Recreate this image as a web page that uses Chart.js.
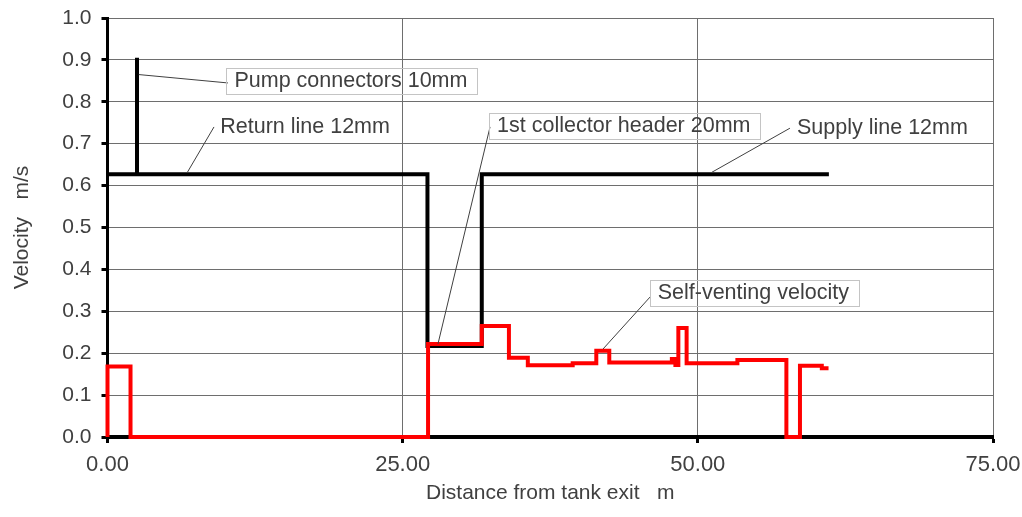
<!DOCTYPE html>
<html>
<head>
<meta charset="utf-8">
<title>Velocity along the collector loop</title>
<script src="https://cdn.jsdelivr.net/npm/chart.js@4.4.0/dist/chart.umd.min.js"></script>
<style>
    body{margin:0;background:#fff;}
    .chart_box{width:1022px;height:517px;position:relative;}
</style>
</head>
<body>
<div class="chart_box"><canvas id="velocityChart"></canvas></div>
<script>
// pipe velocity (black) - step points, value holds from x onward
const pipeDistance = [0, 2.5, 2.5, 27.1, 31.7, 61.1];
const pipeVelocity = [0.627, 0.905, 0.627, 0.217, 0.627, 0.627];

// self-venting velocity (red)
const ventDistance = [0, 0, 1.95, 27.15, 31.7, 34.0, 35.6, 39.4, 41.4, 42.5, 47.8, 48.1, 48.35, 49.05, 53.35, 57.5, 58.65, 60.5, 61.07];
const ventVelocity = [0, 0.168, 0, 0.222, 0.265, 0.189, 0.171, 0.176, 0.206, 0.178, 0.186, 0.172, 0.26, 0.176, 0.184, 0, 0.17, 0.164, 0.164];

const xTicks = [0, 25, 50, 75];
const yTicks = [0, 0.1, 0.2, 0.3, 0.4, 0.5, 0.6, 0.7, 0.8, 0.9, 1.0];

// callouts: text, text anchor (left / middle), leader from line point to label
const noteText   = ["Pump connectors 10mm", "Return line 12mm", "1st collector header 20mm", "Supply line 12mm", "Self-venting velocity"];
const noteAt     = [[10.75, 0.85], [9.55, 0.74], [33.0, 0.742], [58.4, 0.737], [46.6, 0.344]];
const noteTip    = [[2.65, 0.865], [6.73, 0.63], [27.99, 0.222], [51.2, 0.632], [41.97, 0.21]];
const noteEnd    = [[10.2, 0.845], [9.02, 0.74], [32.4, 0.74], [57.8, 0.737], [45.95, 0.334]];
const noteBoxed  = [true, false, true, false, true];

const textColor = "#404040";
const gridColor = "#6e6e6e";

function toPoints(xs, ys){
    let pts = [];
    for(let i=0;i<xs.length;i++){
        pts.push({x:xs[i], y:ys[i]});
    }
    return pts;
}

const calloutPlugin = {
    id:"callouts",
    afterDatasetsDraw(chart){
        const ctx = chart.ctx;
        const xs = chart.scales.x;
        const ys = chart.scales.y;
        ctx.save();
        ctx.font = "21.5px 'Liberation Sans', Arial, sans-serif";
        ctx.textBaseline = "middle";
        for(let i=0;i<noteText.length;i++){
            // leader line
            ctx.strokeStyle = "#404040";
            ctx.lineWidth = 1;
            ctx.beginPath();
            ctx.moveTo(xs.getPixelForValue(noteTip[i][0]), ys.getPixelForValue(noteTip[i][1]));
            ctx.lineTo(xs.getPixelForValue(noteEnd[i][0]), ys.getPixelForValue(noteEnd[i][1]));
            ctx.stroke();

            const tx = xs.getPixelForValue(noteAt[i][0]);
            const ty = ys.getPixelForValue(noteAt[i][1]);
            const w = ctx.measureText(noteText[i]).width;
            if(noteBoxed[i]){
                ctx.strokeStyle = "#c4c4c4";
                ctx.strokeRect(Math.round(tx-8)+0.5, Math.round(ty-13)+0.5, Math.round(w+18), 26);
            }
            ctx.fillStyle = textColor;
            ctx.fillText(noteText[i], tx, ty);
        }
        ctx.restore();
    }
};

window.onload=function(){
    createVelocityChart();
}

function createVelocityChart(){
    const ctx = document.getElementById("velocityChart").getContext("2d");
    const velocityChart = new Chart(ctx, {
        type:"line",
        data:{
            datasets:[{
                label:"Self-venting velocity",
                data:toPoints(ventDistance, ventVelocity),
                borderColor:"#ff0000",
                borderWidth:4,
                stepped:"before",
                pointRadius:0,
                fill:false,
                clip:6
            },{
                label:"Pipe velocity",
                data:toPoints(pipeDistance, pipeVelocity),
                borderColor:"#000000",
                borderWidth:4,
                stepped:"before",
                pointRadius:0,
                fill:false,
                clip:6
            }]
        },
        options:{
            responsive:true,
            maintainAspectRatio:false,
            animation:false,
            layout:{padding:{top:18, right:29, left:0, bottom:0}},
            plugins:{
                legend:{display:false},
                tooltip:{enabled:false}
            },
            scales:{
                x:{
                    type:"linear",
                    min:0,
                    max:75,
                    afterBuildTicks:function(scale){
                        scale.ticks = xTicks.map(v=>({value:v}));
                    },
                    afterFit:function(scale){
                        scale.height = 80;
                        // let the end labels hang over the edge
                        scale.paddingLeft = 0;
                        scale.paddingRight = 0;
                    },
                    ticks:{
                        callback:v=>v.toFixed(2),
                        color:textColor,
                        font:{family:"'Liberation Sans', Arial", size:22},
                        padding:9,
                        maxRotation:0
                    },
                    grid:{
                        color:gridColor,
                        lineWidth:1,
                        tickColor:"#000",
                        tickWidth:3,
                        tickLength:6
                    },
                    border:{color:"#000", width:4},
                    title:{
                        display:true,
                        text:"Distance from tank exit   m",
                        color:textColor,
                        font:{family:"'Liberation Sans', Arial", size:21},
                        padding:{top:11, bottom:11}
                    }
                },
                y:{
                    type:"linear",
                    min:0,
                    max:1,
                    afterBuildTicks:function(scale){
                        scale.ticks = yTicks.map(v=>({value:v}));
                    },
                    afterFit:function(scale){
                        scale.width = 107.5;
                        scale.paddingTop = 0;
                        scale.paddingBottom = 0;
                    },
                    ticks:{
                        callback:v=>v.toFixed(1),
                        color:textColor,
                        font:{family:"'Liberation Sans', Arial", size:21},
                        padding:10
                    },
                    grid:{
                        color:gridColor,
                        lineWidth:1,
                        tickColor:"#000",
                        tickWidth:3,
                        tickLength:6
                    },
                    border:{color:"#000", width:3},
                    title:{
                        display:true,
                        text:"Velocity   m/s",
                        color:textColor,
                        font:{family:"'Liberation Sans', Arial", size:21},
                        padding:{top:10, bottom:10}
                    }
                }
            }
        },
        plugins:[calloutPlugin]
    });
}
</script>
</body>
</html>
